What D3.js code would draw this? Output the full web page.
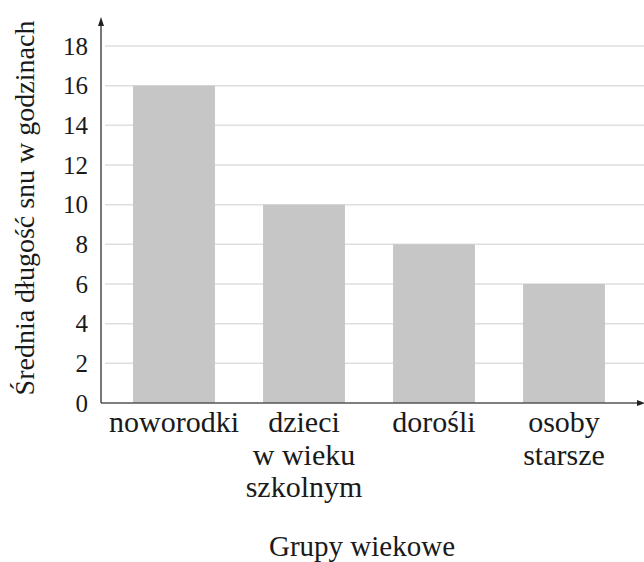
<!DOCTYPE html>
<html>
<head>
<meta charset="utf-8">
<script src="https://cdn.jsdelivr.net/npm/d3@7"></script>
<style>
  body { margin: 0; background: #fff; }
</style>
</head>
<body>
<div id="chart"></div>
<script>
var categories = [['noworodki'], ['dzieci', 'w wieku', 'szkolnym'], ['dorośli'], ['osoby', 'starsze']]
var hours      = [16, 10, 8, 6]
var yTicks     = [0, 2, 4, 6, 8, 10, 12, 14, 16, 18]

var font = 'Liberation Serif'
var width = 644, height = 562
var svg = d3.select('#chart').append('svg')
  .attr('width', width)
  .attr('height', height)

var x0 = 101, yBase = 403

var x = d3.scaleBand()
  .domain(d3.range(categories.length))
  .range([109, 629])
  .paddingInner(0.37)
  .paddingOuter(0.185)

var y = d3.scaleLinear().domain([0, 18]).range([yBase, 46])

// gridlines
svg.append('g').selectAll('line')
  .data(yTicks.filter(d => d > 0))
  .join('line')
    .attr('x1', 105).attr('x2', 644)
    .attr('y1', d => y(d)).attr('y2', d => y(d))
    .attr('stroke', '#dedede')
    .attr('stroke-width', 1.5)

// bars
svg.append('g').selectAll('rect')
  .data(hours)
  .join('rect')
    .attr('x', (d, i) => x(i))
    .attr('y', d => y(d))
    .attr('width', x.bandwidth())
    .attr('height', d => yBase - y(d))
    .attr('fill', '#c6c6c6')

// y axis with tick labels
var yAxis = svg.append('g')
  .attr('transform', 'translate(' + x0 + ',0)')
  .call(d3.axisLeft(y).tickValues(yTicks).tickSize(0).tickPadding(13))
yAxis.attr('font-family', font).attr('font-size', 25)
yAxis.select('.domain').remove()
yAxis.selectAll('text')
  .attr('font-family', font)
  .attr('font-size', 25)
  .attr('fill', '#1a1a1a')

// axis lines with arrows
svg.append('line')
  .attr('x1', x0).attr('x2', x0)
  .attr('y1', yBase).attr('y2', 24)
  .attr('stroke', '#555').attr('stroke-width', 1.6)
svg.append('path')
  .attr('d', 'M' + x0 + ',17 L' + (x0 - 3) + ',26 L' + (x0 + 3) + ',26 Z')
  .attr('fill', '#222')
svg.append('line')
  .attr('x1', x0).attr('x2', 640)
  .attr('y1', yBase).attr('y2', yBase)
  .attr('stroke', '#555').attr('stroke-width', 1.6)
svg.append('path')
  .attr('d', 'M645,' + yBase + ' L637,' + (yBase - 3) + ' L637,' + (yBase + 3) + ' Z')
  .attr('fill', '#222')

// category labels
svg.append('g').selectAll('text')
  .data(categories)
  .join('text')
    .attr('text-anchor', 'middle')
    .attr('font-family', font)
    .attr('font-size', 30)
    .attr('fill', '#1a1a1a')
    .each(function(lines, i) {
      d3.select(this).selectAll('tspan')
        .data(lines)
        .join('tspan')
          .attr('x', x(i) + x.bandwidth() / 2)
          .attr('y', (d, j) => 432 + j * 32.5)
          .text(d => d)
    })

// axis titles
svg.append('text')
  .attr('x', 362).attr('y', 556)
  .attr('text-anchor', 'middle')
  .attr('font-family', font)
  .attr('font-size', 29)
  .attr('fill', '#1a1a1a')
  .text('Grupy wiekowe')

svg.append('text')
  .attr('transform', 'translate(34,208) rotate(-90)')
  .attr('text-anchor', 'middle')
  .attr('font-family', font)
  .attr('font-size', 28)
  .attr('fill', '#1a1a1a')
  .text('Średnia długość snu w godzinach')
</script>
</body>
</html>
